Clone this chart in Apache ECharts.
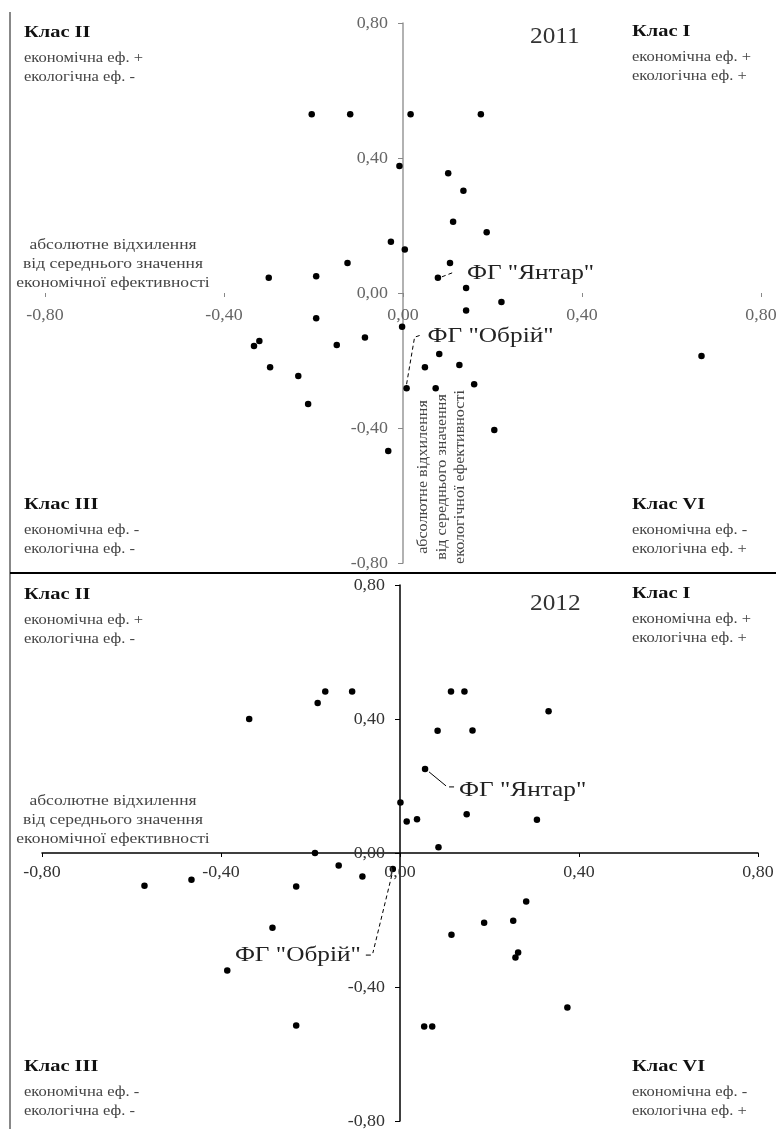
<!DOCTYPE html>
<html><head><meta charset="utf-8">
<script src="https://cdn.jsdelivr.net/npm/echarts@6/dist/echarts.min.js"></script>
<style>html,body{margin:0;padding:0;background:#fff}#c{width:776px;height:1129px}</style>
</head><body><div id="c"></div>
<script>
// ---- data ----
const axisTicks = [-0.8, -0.4, 0, 0.4, 0.8];
const years = ['2011', '2012'];
const points2011 = [
  [-0.204,0.53],[-0.118,0.53],[0.017,0.53],[0.174,0.53],[-0.008,0.376],[0.101,0.355],
  [0.135,0.303],[0.112,0.211],[0.187,0.18],[-0.027,0.152],[0.004,0.129],[-0.124,0.089],
  [0.105,0.089],[-0.30,0.045],[-0.194,0.05],[0.078,0.045],[0.141,0.015],[0.22,-0.027],
  [0.141,-0.052],[-0.194,-0.075],[-0.002,-0.10],[-0.321,-0.142],[-0.333,-0.157],[-0.148,-0.154],
  [-0.085,-0.132],[0.081,-0.181],[-0.297,-0.22],[-0.234,-0.246],[0.049,-0.22],[0.126,-0.213],
  [0.008,-0.282],[0.073,-0.282],[0.159,-0.27],[-0.212,-0.329],[0.204,-0.406],[-0.033,-0.468],
  [0.667,-0.187]
];
const points2012 = [
  [-0.337,0.40],[-0.184,0.448],[-0.167,0.482],[-0.107,0.482],[0.114,0.482],[0.144,0.482],
  [0.332,0.423],[0.084,0.365],[0.162,0.366],[0.056,0.251],[0.001,0.151],[0.015,0.094],
  [0.038,0.101],[0.149,0.116],[0.306,0.099],[0.086,0.017],[-0.19,0.0],[-0.137,-0.037],
  [-0.084,-0.07],[-0.016,-0.048],[-0.571,-0.098],[-0.466,-0.08],[-0.232,-0.10],[-0.285,-0.223],
  [-0.386,-0.351],[-0.232,-0.515],[0.115,-0.244],[0.188,-0.208],[0.253,-0.202],[0.282,-0.145],
  [0.264,-0.297],[0.258,-0.312],[0.374,-0.461],[0.054,-0.518],[0.072,-0.518]
];
const farms = ['ФГ "Янтар"', 'ФГ "Обрій"'];
const farmPoints2011 = [[0.078,0.045],[0.008,-0.282]];
const farmPoints2012 = [[0.056,0.251],[-0.016,-0.048]];
const classNames = ['Клас II', 'Клас I', 'Клас III', 'Клас VI'];
const classLines = [
  ['економічна еф. +', 'екологічна еф. -'],
  ['економічна еф. +', 'екологічна еф. +'],
  ['економічна еф. -', 'екологічна еф. -'],
  ['економічна еф. -', 'екологічна еф. +']
];
const xTitle = 'абсолютне відхилення\nвід середнього значення\nекономічної ефективності';
const yTitle = 'абсолютне відхилення\nвід середнього значення\nекологічної ефективності';

// ---- chart ----
const chart = echarts.init(document.getElementById('c'), null, {renderer:'canvas'});
const SERIF = '"Liberation Serif","Times New Roman",serif';
const fmt = v => (Math.abs(v) < 1e-9 ? 0 : v).toFixed(2).replace('.', ',');
const grids = [
  {left:45, width:716, top:23, height:540, outerBoundsMode:'none', containLabel:false},
  {left:42, width:716, top:585, height:536, outerBoundsMode:'none', containLabel:false}
];
function xAx(i){
  return {type:'value', gridIndex:i, min:-0.8, max:0.8, interval:0.4,
    axisLine:{show:i===1, onZero:true, lineStyle:{color:'#000', width:1.5}},
    axisTick:{show:true, inside:false, length:4, lineStyle:{color:i===0?'#888':'#000'}},
    axisLabel:{show:false},
    splitLine:{show:false}};
}
function yAx(i){
  return {type:'value', gridIndex:i, min:-0.8, max:0.8, interval:0.4,
    axisLine:{show:true, onZero:true, lineStyle:{color:i===0?'#999':'#000', width:1.5}},
    axisTick:{show:true, length:5, lineStyle:{color:i===0?'#888':'#000'}},
    axisLabel:{show:false},
    splitLine:{show:false}};
}
chart.setOption({
  animation:false,
  backgroundColor:'#fff',
  grid:grids,
  xAxis:[xAx(0), xAx(1)],
  yAxis:[yAx(0), yAx(1)],
  series:[
    {type:'scatter', xAxisIndex:0, yAxisIndex:0, data:points2011, symbolSize:6.5, itemStyle:{color:'#000', opacity:1}},
    {type:'scatter', xAxisIndex:1, yAxisIndex:1, data:points2012, symbolSize:6.5, itemStyle:{color:'#000', opacity:1}}
  ]
});

// ---- annotations ----
const g = [];
g.push({type:'line', shape:{x1:10, y1:12, x2:10, y2:1129}, style:{stroke:'#888', lineWidth:2}});
g.push({type:'line', shape:{x1:10, y1:573, x2:776, y2:573}, style:{stroke:'#000', lineWidth:2}});

function txt(x, y, text, size, sx, extra){
  g.push({type:'text', x:x, y:y, scaleX:sx, scaleY:1, z:10,
    style:Object.assign({text:text, font:size + 'px ' + SERIF, fill:'#222', textVerticalAlign:'middle'}, extra||{})});
}
function px(gi, pt){ return chart.convertToPixel({xAxisIndex:gi, yAxisIndex:gi}, pt); }

// tick labels
[0, 1].forEach(gi => {
  const col = gi === 0 ? '#666' : '#333';
  axisTicks.forEach(v => {
    const p = px(gi, [v, 0]);
    txt(p[0], p[1] + (gi === 0 ? 23 : 20), fmt(v), 16, 1.12, {fill:col, textAlign:'center'});
    const q = px(gi, [0, v]);
    txt(q[0] - 15, q[1] + 1, fmt(v), 16, 1.12, {fill:col, textAlign:'right'});
  });
});

const panelOffsets = [0, 562];
const classPos = [[24, 33], [632, 32], [24, 505], [632, 505]];
panelOffsets.forEach((off, p) => {
  classPos.forEach((cp, k) => {
    txt(cp[0], cp[1] + off, classNames[k], 17, 1.2, {fill:'#111', font:'bold 17px ' + SERIF});
    txt(cp[0], cp[1] + off + 25, classLines[k][0], 14, 1.18, {fill:'#444'});
    txt(cp[0], cp[1] + off + 44, classLines[k][1], 14, 1.18, {fill:'#444'});
  });
  txt(530, (p === 0 ? 37 : 604), years[p], 23, 1.1, {fill:'#333'});
  g.push({type:'text', x:113, y:(p === 0 ? 264 : 820), scaleX:1.25, z:10,
    style:{text:xTitle, font:'14px ' + SERIF, fill:'#444', textAlign:'center', textVerticalAlign:'middle', lineHeight:19}});
});
g.push({type:'text', x:442, y:477, rotation:Math.PI/2, scaleX:1.15, z:10,
  style:{text:yTitle, font:'14px ' + SERIF, fill:'#444', textAlign:'center', textVerticalAlign:'middle', lineHeight:18.5}});

const dash = {stroke:'#000', lineWidth:1, lineDash:[4,3]};
// 2011 Yantar
let a = px(0, farmPoints2011[0]);
g.push({type:'polyline', shape:{points:[[a[0]+4,a[1]-1],[a[0]+17,a[1]-6]]}, style:dash});
txt(a[0]+29, a[1]-5, farms[0], 22, 1.15);
// 2011 Obriy
a = px(0, farmPoints2011[1]);
g.push({type:'polyline', shape:{points:[[a[0],a[1]-4],[a[0]+8,a[1]-51],[a[0]+14,a[1]-53]]}, style:dash});
txt(a[0]+21, a[1]-52, farms[1], 22, 1.15);
// 2012 Yantar
a = px(1, farmPoints2012[0]);
g.push({type:'polyline', shape:{points:[[a[0]+4,a[1]+3],[a[0]+21,a[1]+17]]}, style:{stroke:'#000', lineWidth:1}});
g.push({type:'polyline', shape:{points:[[a[0]+24,a[1]+18],[a[0]+29,a[1]+18]]}, style:{stroke:'#000', lineWidth:1}});
txt(a[0]+34, a[1]+21, farms[0], 22, 1.15);
// 2012 Obriy
a = px(1, farmPoints2012[1]);
g.push({type:'polyline', shape:{points:[[a[0]-1,a[1]+6],[a[0]-20,a[1]+84]]}, style:dash});
g.push({type:'polyline', shape:{points:[[a[0]-27,a[1]+86],[a[0]-22,a[1]+86]]}, style:{stroke:'#000', lineWidth:1}});
txt(a[0]-32, a[1]+86, farms[1], 22, 1.15, {textAlign:'right'});

chart.setOption({graphic:{elements:g}});
</script></body></html>
